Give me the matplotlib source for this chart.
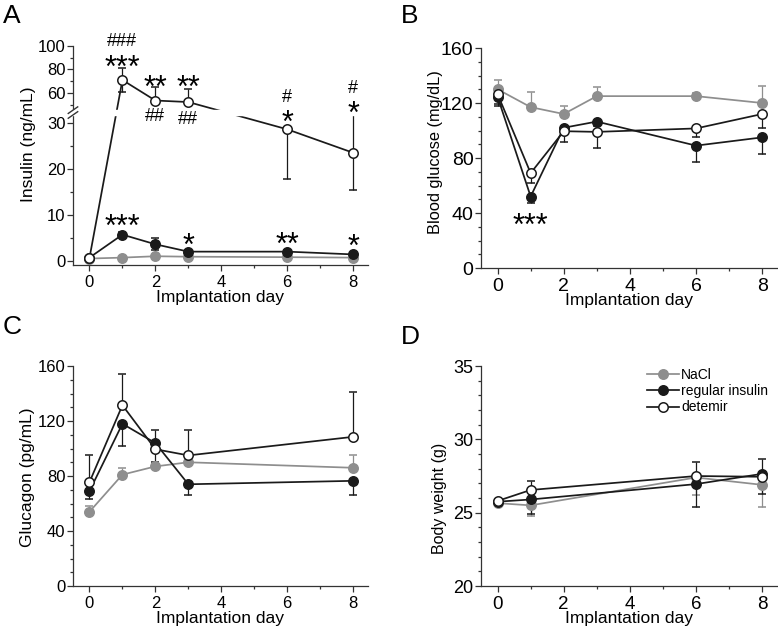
import numpy as np
import matplotlib
matplotlib.use("Agg")
import matplotlib.pyplot as plt
import matplotlib.transforms as mtransforms
from matplotlib.ticker import FixedLocator, MultipleLocator, FormatStrFormatter, NullFormatter
from matplotlib.patches import Rectangle
from matplotlib.lines import Line2D

plt.rcParams["font.family"] = ["Liberation Sans", "DejaVu Sans"]

# --- data (mean, lower error, upper error) ---
series_labels = ["NaCl", "regular insulin", "detemir"]

days_a = [0, 1, 2, 3, 6, 8]
ins_nacl = [0.5, 0.7, 1.0, 0.9, 0.8, 0.7]
ins_nacl_lo = [0.2, 0.2, 0.3, 0.2, 0.2, 0.2]
ins_nacl_hi = [0.2, 0.2, 0.3, 0.2, 0.2, 0.2]
ins_reg = [0.7, 5.7, 3.6, 2.0, 2.0, 1.4]
ins_reg_lo = [0.3, 0.6, 1.3, 0.4, 0.4, 0.3]
ins_reg_hi = [0.3, 0.6, 1.3, 0.4, 0.4, 0.3]
ins_det = [0.6, 71.0, 53.5, 52.2, 28.6, 23.5]
ins_det_lo = [0.3, 10.0, 0.0, 0.0, 10.8, 8.2]
ins_det_hi = [0.3, 10.0, 11.5, 11.3, 0.0, 8.2]

days_b = [0, 1, 2, 3, 6, 8]
glu_nacl = [130, 117, 112, 125, 125, 120]
glu_nacl_lo = [0, 0, 0, 0, 0, 0]
glu_nacl_hi = [7, 11, 6, 7, 2.5, 12.5]
glu_reg = [124.5, 52, 102, 106.5, 89, 95]
glu_reg_lo = [5, 5, 3, 3, 12, 12]
glu_reg_hi = [0, 0, 0, 0, 0, 0]
glu_det = [126.5, 69, 99.5, 99, 101.5, 112]
glu_det_lo = [9, 7, 8, 12, 6, 10]
glu_det_hi = [0, 0, 0, 0, 0, 0]

days_c = [0, 1, 2, 3, 8]
glc_nacl = [54, 81, 87, 90, 86]
glc_nacl_lo = [0, 0, 0, 0, 0]
glc_nacl_hi = [4.5, 4.5, 2, 2, 9]
glc_reg = [69, 118, 104, 74, 76.5]
glc_reg_lo = [5.5, 16, 14, 7.5, 10.5]
glc_reg_hi = [0, 0, 0, 0, 0]
glc_det = [75.5, 131.5, 99.5, 95, 108.5]
glc_det_lo = [0, 0, 0, 0, 0]
glc_det_hi = [19.5, 23, 14, 18.5, 32.5]

days_d = [0, 1, 6, 8]
bw_nacl = [25.65, 25.5, 27.4, 26.9]
bw_nacl_lo = [0.15, 0.7, 1.2, 1.5]
bw_nacl_hi = [0, 0, 0, 0]
bw_reg = [25.75, 25.9, 26.95, 27.65]
bw_reg_lo = [0.1, 1.0, 1.55, 1.4]
bw_reg_hi = [0, 0, 0, 0]
bw_det = [25.8, 26.55, 27.5, 27.45]
bw_det_lo = [0, 0, 0, 0]
bw_det_hi = [0.1, 0.6, 0.95, 1.2]

# --- broken y scale for the insulin panel ---
LOW_TOP = 32.3
HIGH_BOTTOM = 43.5
HIGH_RATIO = 0.255
GAP_RATIO = 0.001
GAP_TOP = LOW_TOP + (HIGH_BOTTOM - LOW_TOP) * GAP_RATIO


def fwd(y):
    y = np.asarray(y, dtype=float)
    gap = LOW_TOP + (y - LOW_TOP) * GAP_RATIO
    high = GAP_TOP + (y - HIGH_BOTTOM) * HIGH_RATIO
    return np.where(y <= LOW_TOP, y, np.where(y <= HIGH_BOTTOM, gap, high))


def inv(u):
    u = np.asarray(u, dtype=float)
    gap = LOW_TOP + (u - LOW_TOP) / GAP_RATIO
    high = HIGH_BOTTOM + (u - GAP_TOP) / HIGH_RATIO
    return np.where(u <= LOW_TOP, u, np.where(u <= GAP_TOP, gap, high))


GREY = "#8e8e8e"
INK = "#1a1a1a"
styles = [
    dict(color=GREY, mfc=GREY, mec=GREY, ecolor=GREY),
    dict(color=INK, mfc=INK, mec=INK, ecolor=INK),
    dict(color=INK, mfc="white", mec=INK, ecolor=INK),
]

fig = plt.figure(figsize=(7.78, 6.30), dpi=100)
ax_a = fig.add_axes([0.0938, 0.5794, 0.3792, 0.3476])
ax_b = fig.add_axes([0.6183, 0.5746, 0.3805, 0.3492])
ax_c = fig.add_axes([0.0938, 0.0698, 0.3792, 0.3492])
ax_d = fig.add_axes([0.6183, 0.0698, 0.3805, 0.3492])


def draw(ax, x, groups):
    lines = []
    for (y, lo, hi), st in zip(groups, styles):
        cont = ax.errorbar(x, y, yerr=[lo, hi], fmt="-o", ms=6.8, mew=1.1, lw=1.25,
                           elinewidth=0.9, capsize=3.2, capthick=0.9, **st)
        lines.append(cont[0])
    return lines


def style(ax, ylabel, lx, ly, xsize=12, ysize=12, labsize=12.5, labfamily=None):
    for s in ("top", "right"):
        ax.spines[s].set_visible(False)
    for s in ("left", "bottom"):
        ax.spines[s].set_color("#333333")
        ax.spines[s].set_linewidth(0.9)
    ax.set_xlim(-0.5, 8.45)
    ax.xaxis.set_major_locator(MultipleLocator(2))
    ax.xaxis.set_minor_locator(MultipleLocator(1))
    ax.tick_params(which="both", direction="out", color="#333333", width=0.9)
    ax.tick_params(which="major", length=4)
    ax.tick_params(which="minor", length=2.5)
    ax.tick_params(axis="y", pad=1.5, labelsize=ysize)
    ax.tick_params(axis="x", pad=3, labelsize=xsize)
    ax.set_xlabel("Implantation day", fontsize=12.5)
    if labfamily:
        ax.set_ylabel(ylabel, fontsize=labsize, family=labfamily)
    else:
        ax.set_ylabel(ylabel, fontsize=labsize)
    ax.xaxis.set_label_coords(0.5, -0.115)
    ax.yaxis.set_label_coords(lx, ly)


def mark(ax, x, y, s, size):
    dy = -0.3 * size if "*" in s else 0
    tr = mtransforms.offset_copy(ax.transData, fig=fig, x=0, y=dy, units="points")
    ax.text(x, y, s, transform=tr, ha="center", va="center", fontsize=size,
            zorder=6, clip_on=False)


# A: insulin with broken axis
ax_a.set_yscale("function", functions=(fwd, inv))
draw(ax_a, days_a, [(ins_nacl, ins_nacl_lo, ins_nacl_hi),
                    (ins_reg, ins_reg_lo, ins_reg_hi),
                    (ins_det, ins_det_lo, ins_det_hi)])
ax_a.set_ylim(-0.9, 100)
ax_a.yaxis.set_major_locator(FixedLocator([0, 10, 20, 30, 60, 80, 100]))
ax_a.yaxis.set_minor_locator(FixedLocator([5, 15, 25, 50, 70, 90]))
ax_a.yaxis.set_major_formatter(FormatStrFormatter("%d"))
ax_a.yaxis.set_minor_formatter(NullFormatter())
style(ax_a, "Insulin (ng/mL)", -0.125, 0.553)
ax_a.add_patch(Rectangle((-0.03, 0.686), 1.05, 0.022, transform=ax_a.transAxes,
                         color="white", zorder=2.7, clip_on=False))
for y0, y1 in ((0.670, 0.700), (0.692, 0.722)):
    ax_a.add_line(Line2D([-0.016, 0.016], [y0, y1], transform=ax_a.transAxes,
                         color="#333333", lw=1.0, clip_on=False, zorder=3))

for x, y, s in [(1, 103.5, "###"), (2, 31.3, "##"), (3, 30.65, "##"),
                (6, 55.7, "#"), (8, 63.5, "#")]:
    mark(ax_a, x, y, s, 13)
for x, y, s in [(1, 88.2, "***"), (2, 71.1, "**"), (3, 71.1, "**"),
                (6, 31.7, "*"), (8, 49.0, "*"), (1, 9.1, "***"),
                (3, 5.0, "*"), (6, 5.2, "**"), (8, 4.8, "*")]:
    mark(ax_a, x, y, s, 22)

# B: blood glucose
draw(ax_b, days_b, [(glu_nacl, glu_nacl_lo, glu_nacl_hi),
                    (glu_reg, glu_reg_lo, glu_reg_hi),
                    (glu_det, glu_det_lo, glu_det_hi)])
ax_b.set_ylim(0, 160)
ax_b.yaxis.set_major_locator(MultipleLocator(40))
ax_b.yaxis.set_minor_locator(MultipleLocator(10))
style(ax_b, "Blood glucose (mg/dL)", -0.128, 0.525, xsize=14, ysize=14, labsize=11.8)
mark(ax_b, 1, 36.3, "***", 22)

# C: glucagon
draw(ax_c, days_c, [(glc_nacl, glc_nacl_lo, glc_nacl_hi),
                    (glc_reg, glc_reg_lo, glc_reg_hi),
                    (glc_det, glc_det_lo, glc_det_hi)])
ax_c.set_ylim(0, 160)
ax_c.yaxis.set_major_locator(MultipleLocator(40))
ax_c.yaxis.set_minor_locator(MultipleLocator(10))
style(ax_c, "Glucagon (pg/mL)", -0.129, 0.495)

# D: body weight
handles = draw(ax_d, days_d, [(bw_nacl, bw_nacl_lo, bw_nacl_hi),
                              (bw_reg, bw_reg_lo, bw_reg_hi),
                              (bw_det, bw_det_lo, bw_det_hi)])
ax_d.set_ylim(20, 35)
ax_d.yaxis.set_major_locator(MultipleLocator(5))
ax_d.yaxis.set_minor_locator(MultipleLocator(1))
style(ax_d, "Body weight (g)", -0.115, 0.40, xsize=13.5, ysize=13, labsize=11.5,
      labfamily=["Liberation Sans Narrow", "Liberation Sans", "DejaVu Sans"])
ax_d.legend(handles, series_labels, loc="upper left", bbox_to_anchor=(0.561, 0.99),
            frameon=False, fontsize=10, handlelength=2.3, handletextpad=0.15,
            labelspacing=0.15, borderpad=0, borderaxespad=0)

for txt, x, y in [("A", 0.004, 0.994), ("B", 0.515, 0.994), ("C", 0.004, 0.5), ("D", 0.515, 0.484)]:
    fig.text(x, y, txt, fontsize=19, ha="left", va="top")

fig.savefig("out.png", dpi=100)
